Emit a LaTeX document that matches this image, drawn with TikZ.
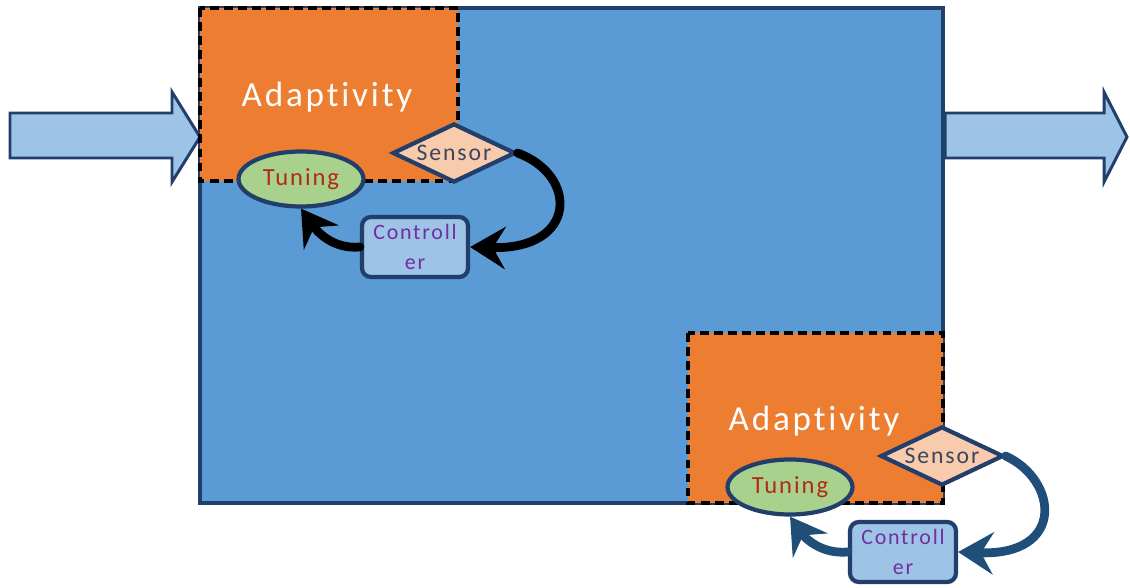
\documentclass[tikz,border=0pt]{standalone}
\usepackage{fontspec}
\setmainfont{Carlito}
\newfontfamily\spacedfont{Carlito}[LetterSpace=8, Ligatures=NoCommon]
\usetikzlibrary{shapes.geometric,arrows.meta}

\definecolor{boxblue}{HTML}{5B9BD5}
\definecolor{navy}{HTML}{223F6B}
\definecolor{adaptorange}{HTML}{ED7D31}
\definecolor{sensorpeach}{HTML}{F8CBAD}
\definecolor{tunegreen}{HTML}{A9D18E}
\definecolor{ctrlblue}{HTML}{9DC3E6}
\definecolor{tunered}{HTML}{B22A12}
\definecolor{ctrlpurple}{HTML}{7030A0}
\definecolor{sensorgray}{HTML}{3A4660}
\definecolor{loopblue}{HTML}{1F4E79}

\tikzset{
  sensorbox/.style={diamond, draw=navy, fill=sensorpeach, line width=2.4pt, inner sep=0pt,
    minimum width=2.46cm, minimum height=1.18cm},
  sensortext/.style={text=sensorgray, font=\spacedfont\fontsize{13.5}{15}\selectfont},
  tunebox/.style={ellipse, draw=navy, fill=tunegreen, line width=2.4pt, inner sep=0pt,
    minimum width=2.5cm, minimum height=1.1cm, text=tunered, font=\spacedfont\fontsize{14}{16}\selectfont},
  ctrlbox/.style={rectangle, rounded corners=5pt, draw=navy, fill=ctrlblue, line width=2.4pt, inner sep=0pt,
    minimum width=2.12cm, minimum height=1.2cm, align=center, text=ctrlpurple,
    font=\spacedfont\fontsize{12.5}{17}\selectfont},
  adapttext/.style={text=white, font=\spacedfont\fontsize{20}{22}\selectfont},
  feedback/.style={line width=5pt, line cap=round, -{Stealth[length=20pt,width=24pt,inset=7pt]}},
  adaptbox/.style={fill=adaptorange, draw=black, line width=2.4pt, dash pattern=on 5pt off 3pt},
  bigarrow/.style={fill=ctrlblue, draw=navy, line width=1.7pt, line join=miter}
}

\begin{document}
\begin{tikzpicture}[x=0.02cm, y=-0.02cm]
  \useasboundingbox (0,0) rectangle (1130,588);

  % Main system block
  \filldraw[fill=boxblue, draw=navy, line width=2.4pt] (200,8) rectangle (943,503);

  % Input and output arrows
  \filldraw[bigarrow] (10,113) -- (172,113) -- (172,92) -- (200,137) -- (172,182) -- (172,158) -- (10,158) -- cycle;
  \filldraw[bigarrow] (945,113) -- (1104,113) -- (1104,92) -- (1127,137) -- (1104,182) -- (1104,158) -- (945,158) -- cycle;

  % Adaptivity areas
  \filldraw[adaptbox] (200,8) rectangle (458,181);
  \filldraw[adaptbox] (688,333) rectangle (943,503);

  % Upper loop
  \node[adapttext] (adapt1) at (327,97) {Adaptivity};
  \node[sensorbox, label={[sensortext]center:Sensor}] (sens1) at (454,153) {};
  \node[tunebox] (tun1) at (301,179) {Tuning};
  \node[ctrlbox] (ctrl1) at (415,247) {Controll\\er};
  \draw[feedback, black] (sens1.east) .. controls (578,175) and (578,250) .. (ctrl1.east);
  \draw[feedback, black] (ctrl1.west) to[out=185, in=-55] (tun1.south);

  % Lower loop
  \node[adapttext] (adapt2) at (814,421) {Adaptivity};
  \node[sensorbox, label={[sensortext]center:Sensor}] (sens2) at (942,456) {};
  \node[tunebox] (tun2) at (790,487) {Tuning};
  \node[ctrlbox] (ctrl2) at (903,552) {Controll\\er};
  \draw[feedback, loopblue] (sens2.east) .. controls (1058,480) and (1066,556) .. (ctrl2.east);
  \draw[feedback, loopblue] (ctrl2.west) to[out=185, in=-55] (tun2.south);
\end{tikzpicture}
\end{document}
